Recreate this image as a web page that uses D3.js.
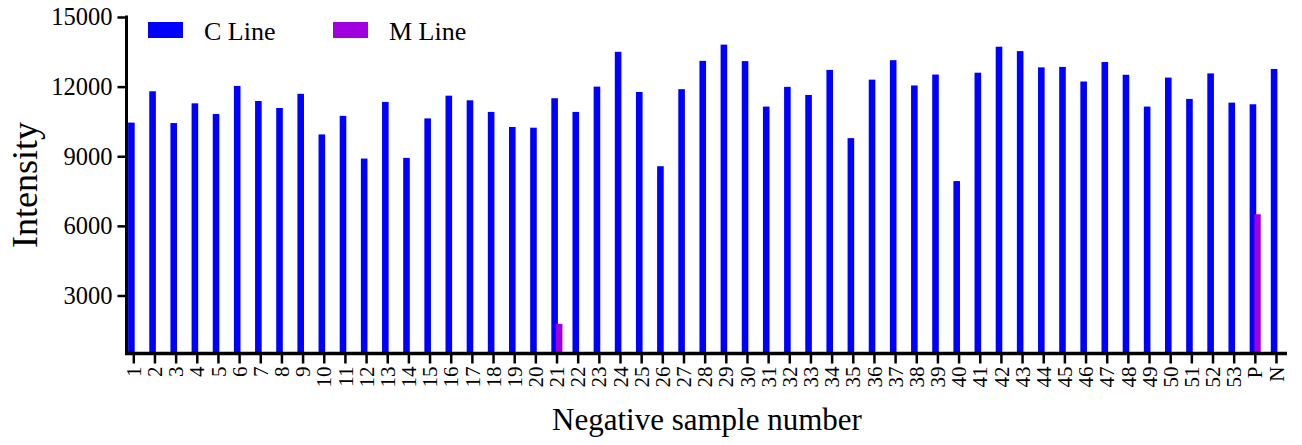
<!DOCTYPE html>
<html><head><meta charset="utf-8">
<script src="https://cdn.jsdelivr.net/npm/d3@7"></script>
<style>body{margin:0;background:#fff}svg{display:block}text{font-family:"Liberation Serif","Times New Roman",serif;fill:#000}</style>
</head><body><svg id="c" width="1302" height="445"></svg>
<script>
const categories = ["1","2","3","4","5","6","7","8","9","10","11","12","13","14","15","16","17","18","19","20","21","22","23","24","25","26","27","28","29","30","31","32","33","34","35","36","37","38","39","40","41","42","43","44","45","46","47","48","49","50","51","52","53","P","N"];
const cLine = [10450,11800,10430,11280,10820,12030,11380,11080,11690,9940,10740,8900,11340,8930,10630,11610,11410,10910,10260,10230,11500,10910,12000,13500,11770,8570,11890,13110,13810,13100,11140,11990,11640,12720,9780,12300,13140,12050,12520,7930,12600,13720,13530,12830,12850,12220,13060,12510,11140,12390,11470,12570,11310,11240,12760];
const mLine = [0,0,0,0,0,0,0,0,0,0,0,0,0,0,0,0,0,0,0,0,1780,0,0,0,0,0,0,0,0,0,0,0,0,0,0,0,0,0,0,0,0,0,0,0,0,0,0,0,0,0,0,0,0,6500,0];
const yTicks = [3000,6000,9000,12000,15000];
const seriesNames = ["C Line","M Line"];
const colors = ["#0000ff","#a000e0"];

const svg = d3.select("#c");
const x = d3.scalePoint().domain(categories).range([133.3, 1276]);
const step = x.step();
const y = d3.scaleLinear().domain([500, 15000]).range([353.5, 17]);
const y0 = y(500);

// bars
const gC = svg.append("g");
gC.selectAll("rect").data(categories).join("rect")
  .attr("x", d => x(d) - 5.2).attr("width", 6.6)
  .attr("y", (d,i) => y(Math.max(cLine[i],500))).attr("height", (d,i) => y0 - y(Math.max(cLine[i],500)))
  .attr("fill", colors[0]);
const gM = svg.append("g");
gM.selectAll("rect").data(categories).join("rect")
  .attr("x", d => x(d) - 0.5).attr("width", 6.4)
  .attr("y", (d,i) => y(Math.max(mLine[i],500))).attr("height", (d,i) => y0 - y(Math.max(mLine[i],500)))
  .attr("fill", colors[1]);

// y axis
const ya = svg.append("g").attr("transform","translate(126.5,0)")
  .call(d3.axisLeft(y).tickValues(yTicks).tickSize(9).tickSizeOuter(0).tickPadding(5).tickFormat(d3.format("d")));
ya.select(".domain").attr("stroke-width",3).attr("d", `M0,${y(15000)-1.5}V${y0}`);
ya.selectAll(".tick line").attr("stroke-width",2.5);
ya.selectAll(".tick text").style("font-size","24.5px").attr("fill","#000");

// x axis
const xa = svg.append("g").attr("transform",`translate(0,${y0})`)
  .call(d3.axisBottom(x).tickSize(10).tickSizeOuter(0));
xa.select(".domain").attr("stroke-width",3.5).attr("d", `M125,0H${x("N")+step*0.52}`);
xa.selectAll(".tick line").attr("stroke-width",2.5);
xa.selectAll(".tick text").style("font-size","21px").attr("fill","#000")
  .attr("text-anchor","end").attr("transform","translate(0,1) rotate(-90)")
  .attr("x",-12).attr("y",0).attr("dy","0.34em");

// axis titles
svg.append("text").attr("transform","translate(37,185) rotate(-90)").attr("text-anchor","middle")
  .style("font-size","36px").text("Intensity");
svg.append("text").attr("x",707).attr("y",430).attr("text-anchor","middle")
  .style("font-size","31px").text("Negative sample number");

// legend
const lg = svg.append("g");
const lx = [148, 333];
seriesNames.forEach((n,i) => {
  lg.append("rect").attr("x",lx[i]).attr("y",22).attr("width",35).attr("height",16).attr("fill",colors[i]);
  lg.append("text").attr("x",lx[i]+56).attr("y",39.5).style("font-size","26px").text(n);
});
</script></body></html>
